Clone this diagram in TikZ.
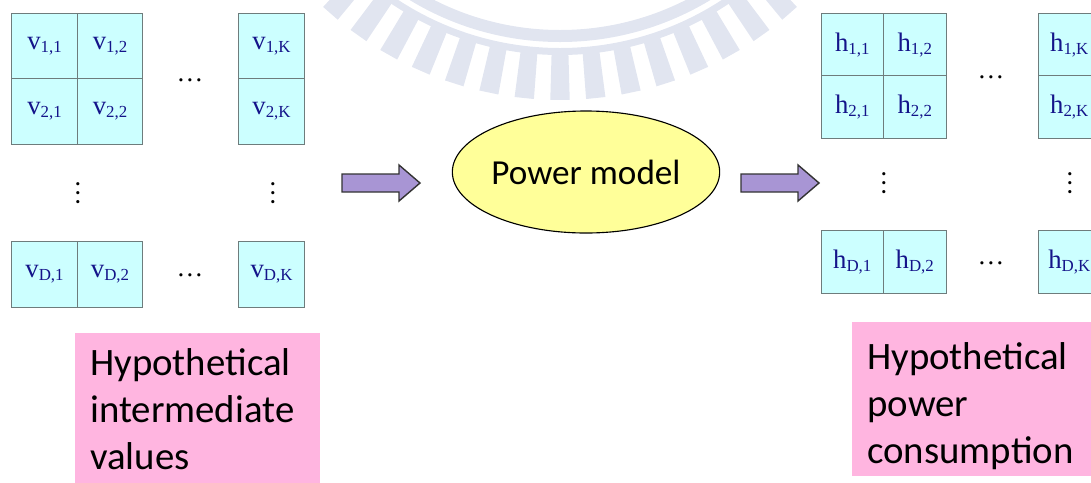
\documentclass[tikz,border=0pt]{standalone}
\usepackage{fontspec}
\setmainfont{Liberation Serif}
\newfontfamily\calibri{Carlito}
\usetikzlibrary{shapes.geometric}

% value with a lowered index, as in the cells
\newcommand{\cellText}[2]{#1\raisebox{-2pt}{\fontsize{12}{12}\selectfont #2}}

\begin{document}
\begin{tikzpicture}[x=0.025cm, y=-0.025cm,
    cell/.style={draw=cellBorder, fill=cellFill, line width=0.7pt, inner sep=0pt,
        minimum width=#1*\pixel, minimum height=#1*\pixel,
        text=valueBlue, font=\fontsize{19}{22}\selectfont},
    dotsText/.style={inner sep=0pt, font=\fontsize{19}{22}\selectfont},
    blockArrow/.style={fill=arrowFill, draw=arrowBorder, line width=1pt, line join=miter},
    modelEllipse/.style={ellipse, draw=black, line width=0.8pt, fill=modelFill,
        minimum width=266*\pixel, minimum height=122*\pixel, inner sep=0pt,
        font=\calibri\fontsize{25}{30}\selectfont},
    captionBox/.style={fill=captionPink, inner sep=0pt, anchor=north west},
    captionText/.style={inner sep=0pt, align=left, anchor=base west,
        font=\calibri\fontsize{27.6}{33.4}\selectfont}]

    % Define colours
    \definecolor{cellFill}{HTML}{CCFFFF}
    \definecolor{cellBorder}{HTML}{6E7C7C}
    \definecolor{valueBlue}{HTML}{14148A}
    \definecolor{arrowFill}{HTML}{A895D4}
    \definecolor{arrowBorder}{HTML}{333333}
    \definecolor{modelFill}{HTML}{FFFF99}
    \definecolor{captionPink}{HTML}{FFB5E0}
    \definecolor{logoTint}{HTML}{E1E5F0}

    % One pixel of the slide
    \def\pixel{0.025cm}

    % Fix the page size
    \useasboundingbox (0,0) rectangle (1091,482);
    \clip (0,0) rectangle (1091,482);

    % Faint emblem behind the slide
    \begin{scope}[shift={(560,-248)}]
        \fill[logoTint, even odd rule] (0,0) circle (290) (0,0) circle (278);
        \fill[logoTint, even odd rule] (0,0) circle (303) (0,0) circle (296);
        \foreach \k in {-7,...,7}
            \fill[logoTint] ({90+5.9*\k-1.6}:301) -- ({90+5.9*\k-1.6}:348)
                -- ({90+5.9*\k+1.6}:348) -- ({90+5.9*\k+1.6}:301) -- cycle;
    \end{scope}

    % Hypothetical intermediate values v
    \foreach \row/\ypos in {1/46.5, 2/111.5, D/274.5}
        \foreach \col/\xpos in {1/44.5, 2/110, K/271.5}
            \node[cell=65.5] (v\row\col) at (\xpos,\ypos) {\cellText{v}{\row,\col}};

    \node[dotsText, anchor=base] (vDotsTop) at (190,81) {…};
    \node[dotsText, anchor=base] (vDotsBottom) at (190,276) {…};
    \node[dotsText, anchor=base, rotate=90] (vDotsLeft) at (79,193) {…};
    \node[dotsText, anchor=base, rotate=90] (vDotsRight) at (274,193) {…};

    % Hypothetical power consumption h
    \foreach \row/\ypos in {1/45, 2/107, D/262}
        \foreach \col/\xpos in {1/852.25, 2/914.75, K/1069.25}
            \node[cell=62.5] (h\row\col) at (\xpos,\ypos) {\cellText{h}{\row,\col}};

    \node[dotsText, anchor=base] (hDotsTop) at (991,78) {…};
    \node[dotsText, anchor=base] (hDotsBottom) at (991,264) {…};
    \node[dotsText, anchor=base, rotate=90] (hDotsLeft) at (885,183) {…};
    \node[dotsText, anchor=base, rotate=90] (hDotsRight) at (1071,183) {…};

    % Power model in the middle
    \node[modelEllipse] (model) at (586,172) {Power model};

    % Block arrows on either side of the model
    \coordinate (inTail) at (342,183);
    \coordinate (outTail) at (741,183);
    \foreach \tail in {inTail, outTail}
        \filldraw[blockArrow] (\tail) ++(0,-9) -- ++(57,0) -- ++(0,-9) -- ++(21,18)
            -- ++(-21,18) -- ++(0,-9) -- ++(-57,0) -- cycle;

    % Captions (placed by the baseline of their last line)
    \node[captionBox, minimum width=245*\pixel, minimum height=170*\pixel] (inBox) at (75,333) {};
    \node[captionText] (inCaption) at (90,469) {Hypothetical\\intermediate\\values};

    \node[captionBox, minimum width=260*\pixel, minimum height=154*\pixel] (outBox) at (852,322) {};
    \node[captionText] (outCaption) at (867,463) {Hypothetical\\power\\consumption};

\end{tikzpicture}
\end{document}
